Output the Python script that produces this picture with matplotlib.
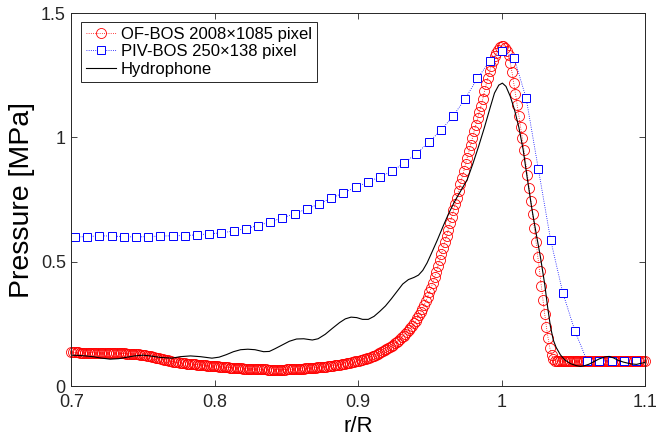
import numpy as np
import matplotlib
matplotlib.use("Agg")
import matplotlib.pyplot as plt

plt.rcParams['font.family'] = ['Liberation Sans', 'DejaVu Sans']

# OF-BOS 2008x1085 pixel, sampled every 0.0012 r/R from 0.7
of_bos_p = [
    0.135, 0.135, 0.135, 0.135, 0.135, 0.134, 0.134, 0.134, 0.134, 0.134,
    0.134, 0.134, 0.134, 0.134, 0.133, 0.133, 0.133, 0.133, 0.133, 0.133,
    0.133, 0.133, 0.133, 0.132, 0.132, 0.132, 0.132, 0.132, 0.131, 0.131,
    0.131, 0.131, 0.130, 0.130, 0.130, 0.129, 0.129, 0.128, 0.127, 0.127,
    0.126, 0.125, 0.124, 0.123, 0.122, 0.120, 0.119, 0.118, 0.116, 0.114,
    0.112, 0.111, 0.109, 0.108, 0.106, 0.105, 0.103, 0.101, 0.100, 0.098,
    0.097, 0.096, 0.095, 0.094, 0.093, 0.092, 0.091, 0.090, 0.089, 0.089,
    0.088, 0.087, 0.087, 0.086, 0.085, 0.085, 0.084, 0.083, 0.083, 0.082,
    0.081, 0.081, 0.080, 0.080, 0.079, 0.079, 0.078, 0.077, 0.077, 0.076,
    0.075, 0.075, 0.074, 0.074, 0.073, 0.073, 0.072, 0.072, 0.071, 0.071,
    0.070, 0.070, 0.070, 0.069, 0.069, 0.069, 0.068, 0.068, 0.068, 0.067,
    0.067, 0.067, 0.067, 0.067, 0.066, 0.066, 0.066, 0.066, 0.066, 0.066,
    0.066, 0.066, 0.066, 0.066, 0.066, 0.067, 0.067, 0.067, 0.067, 0.068,
    0.068, 0.068, 0.069, 0.069, 0.070, 0.070, 0.071, 0.071, 0.072, 0.072,
    0.073, 0.073, 0.074, 0.075, 0.075, 0.076, 0.077, 0.077, 0.078, 0.079,
    0.080, 0.081, 0.082, 0.083, 0.084, 0.085, 0.086, 0.088, 0.089, 0.090,
    0.092, 0.093, 0.094, 0.096, 0.097, 0.099, 0.100, 0.102, 0.104, 0.106,
    0.108, 0.110, 0.112, 0.114, 0.117, 0.119, 0.122, 0.125, 0.128, 0.131,
    0.135, 0.139, 0.143, 0.147, 0.151, 0.156, 0.161, 0.166, 0.171, 0.177,
    0.183, 0.189, 0.196, 0.203, 0.210, 0.218, 0.226, 0.234, 0.243, 0.252,
    0.262, 0.273, 0.285, 0.297, 0.311, 0.326, 0.342, 0.359, 0.377, 0.396,
    0.415, 0.437, 0.460, 0.483, 0.507, 0.531, 0.555, 0.580, 0.604, 0.629,
    0.654, 0.680, 0.706, 0.732, 0.758, 0.785, 0.812, 0.838, 0.865, 0.892,
    0.918, 0.945, 0.971, 0.998, 1.024, 1.050, 1.076, 1.102, 1.128, 1.153,
    1.185, 1.213, 1.240, 1.265, 1.288, 1.308, 1.326, 1.341, 1.353, 1.362,
    1.368, 1.368, 1.361, 1.348, 1.330, 1.300, 1.262, 1.220, 1.176, 1.132,
    1.087, 1.042, 0.997, 0.948, 0.898, 0.848, 0.796, 0.743, 0.690, 0.635,
    0.578, 0.520, 0.462, 0.404, 0.346, 0.290, 0.238, 0.192, 0.153, 0.125,
    0.109, 0.102, 0.100, 0.100, 0.100, 0.100, 0.100, 0.100, 0.100, 0.100,
    0.100, 0.100, 0.100, 0.100, 0.100, 0.100, 0.100, 0.100, 0.100, 0.100,
    0.100, 0.100, 0.100, 0.100, 0.100, 0.100, 0.100, 0.100, 0.100, 0.100,
    0.100, 0.100, 0.100, 0.100, 0.100, 0.100, 0.100, 0.100, 0.100, 0.100,
    0.100, 0.100, 0.100, 0.100, 0.100, 0.100, 0.100, 0.100, 0.100, 0.100,
    0.100, 0.100, 0.100, 0.100,
]
of_bos_r = 0.7 + 0.0012 * np.arange(len(of_bos_p))

# PIV-BOS 250x138 pixel
piv_bos_p = [
    0.599, 0.601, 0.604, 0.603, 0.601, 0.599, 0.601, 0.603, 0.604, 0.605,
    0.608, 0.612, 0.616, 0.623, 0.633, 0.645, 0.660, 0.676, 0.693, 0.712,
    0.732, 0.756, 0.776, 0.799, 0.820, 0.841, 0.864, 0.897, 0.935, 0.980,
    1.028, 1.085, 1.156, 1.237, 1.305, 1.348, 1.321, 1.157, 0.872, 0.589,
    0.376, 0.221, 0.101, 0.101, 0.101, 0.101, 0.101,
]
piv_bos_r = np.linspace(0.7026, 1.0936, len(piv_bos_p))

# Hydrophone
hydro_r = [
    0.700, 0.705, 0.710, 0.715, 0.720, 0.727, 0.733, 0.738, 0.744, 0.750,
    0.755, 0.762, 0.770, 0.776, 0.783, 0.790, 0.798, 0.803, 0.808, 0.813,
    0.818, 0.823, 0.828, 0.834, 0.838, 0.842, 0.847, 0.852, 0.857, 0.862,
    0.868, 0.872, 0.877, 0.882, 0.887, 0.891, 0.895, 0.899, 0.903, 0.907,
    0.911, 0.915, 0.919, 0.923, 0.927, 0.931, 0.935, 0.939, 0.942, 0.945,
    0.948, 0.951, 0.955, 0.959, 0.963, 0.967, 0.971, 0.976, 0.980, 0.984,
    0.988, 0.992, 0.995, 0.998, 1.0005, 1.003, 1.006, 1.009, 1.012, 1.015,
    1.018, 1.021, 1.024, 1.027, 1.030, 1.032, 1.034, 1.036, 1.038, 1.041,
    1.044, 1.048, 1.052, 1.055, 1.058, 1.061, 1.065, 1.068, 1.072, 1.075,
    1.078, 1.081, 1.085, 1.090, 1.094, 1.097, 1.100,
]
hydro_p = [
    0.124, 0.123, 0.121, 0.118, 0.113, 0.108, 0.110, 0.115, 0.121, 0.124,
    0.121, 0.115, 0.112, 0.118, 0.121, 0.118, 0.112, 0.116, 0.126, 0.138,
    0.146, 0.148, 0.146, 0.138, 0.139, 0.150, 0.165, 0.180, 0.189, 0.190,
    0.185, 0.190, 0.208, 0.232, 0.255, 0.270, 0.277, 0.275, 0.268, 0.268,
    0.280, 0.300, 0.322, 0.350, 0.380, 0.410, 0.428, 0.437, 0.446, 0.465,
    0.495, 0.533, 0.585, 0.640, 0.693, 0.740, 0.780, 0.830, 0.895, 0.965,
    1.040, 1.120, 1.178, 1.210, 1.218, 1.205, 1.165, 1.110, 1.040, 0.950,
    0.830, 0.715, 0.615, 0.520, 0.410, 0.320, 0.240, 0.185, 0.155, 0.125,
    0.105, 0.090, 0.082, 0.079, 0.082, 0.088, 0.100, 0.109, 0.117, 0.119,
    0.113, 0.104, 0.096, 0.089, 0.087, 0.091, 0.095,
]

x_ticks = [0.7, 0.8, 0.9, 1.0, 1.1]
x_labels = ['0.7', '0.8', '0.9', '1', '1.1']
y_ticks = [0, 0.5, 1, 1.5]
y_labels = ['0', '0.5', '1', '1.5']

fig = plt.figure(figsize=(6.64, 4.41), dpi=100)
ax = fig.add_axes([0.1075, 0.1247, 0.864, 0.8458])

ax.plot(of_bos_r, of_bos_p, ':', color='red', lw=0.6, marker='o', ms=7.2,
        mfc='none', mec='red', mew=0.6, clip_on=False,
        label='OF-BOS 2008×1085 pixel')
ax.plot(piv_bos_r, piv_bos_p, ':', color='#0000ff', lw=0.6, marker='s', ms=6,
        mfc='white', mec='#0000ff', mew=0.7, label='PIV-BOS 250×138 pixel')
ax.plot(hydro_r, hydro_p, '-', color='black', lw=0.8, label='Hydrophone')

ax.set_xlim(0.7, 1.1)
ax.set_ylim(0, 1.5)
ax.set_xticks(x_ticks)
ax.set_xticklabels(x_labels)
ax.set_yticks(y_ticks)
ax.set_yticklabels(y_labels)
ax.tick_params(direction='in', top=True, right=True, length=4, width=0.6,
               labelsize=13, colors='#262626')
ax.tick_params(axis='x', pad=6)
ax.tick_params(axis='y', pad=4)
for s in ax.spines.values():
    s.set_linewidth(0.7)
    s.set_color('#262626')

ax.set_xlabel('r/R', fontsize=16, labelpad=3)
ax.set_ylabel('Pressure [MPa]', fontsize=20.5, labelpad=4)

leg = ax.legend(loc='upper left', bbox_to_anchor=(0.016, 0.977), numpoints=1,
                fontsize=12, frameon=True, fancybox=False, framealpha=1,
                edgecolor='#262626', borderpad=0.3, labelspacing=0.15,
                handlelength=1.8, handletextpad=0.3, borderaxespad=0)
leg.get_frame().set_linewidth(0.7)

fig.savefig('out.png', dpi=100)
